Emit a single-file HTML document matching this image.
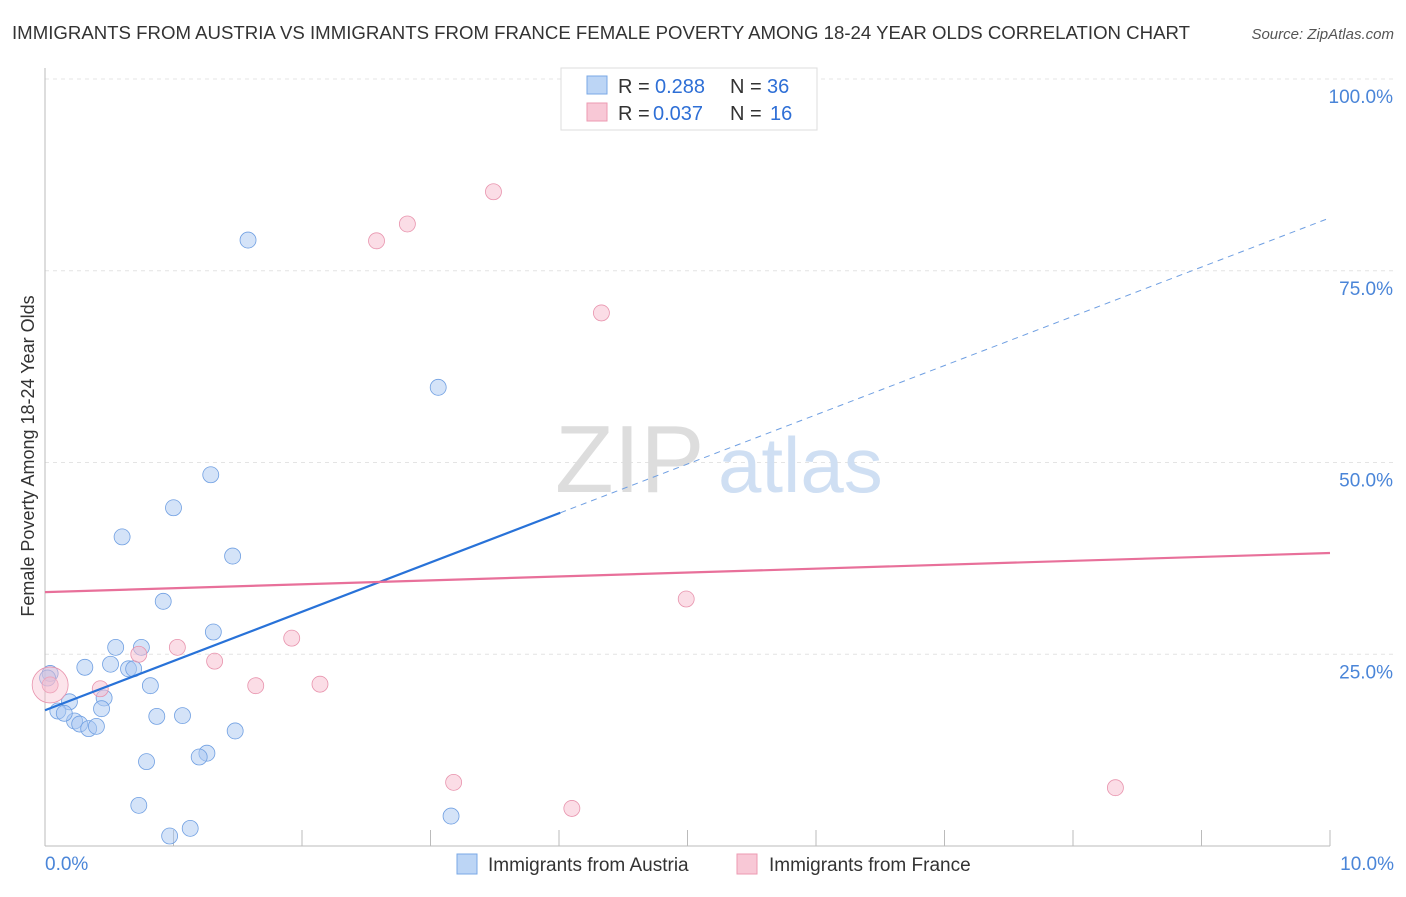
<!DOCTYPE html>
<html><head><meta charset="utf-8"><style>
body{margin:0;background:#fff;font-family:"Liberation Sans",sans-serif;}
svg text{font-family:"Liberation Sans",sans-serif;}
</style></head><body>
<svg id="c" width="1406" height="892" xmlns="http://www.w3.org/2000/svg">
<text x="12" y="39" font-size="18" fill="#333" textLength="1178" lengthAdjust="spacingAndGlyphs">IMMIGRANTS FROM AUSTRIA VS IMMIGRANTS FROM FRANCE FEMALE POVERTY AMONG 18-24 YEAR OLDS CORRELATION CHART</text>
<text x="1394" y="39" font-size="15" fill="#555" font-style="italic" text-anchor="end">Source: ZipAtlas.com</text>
<text transform="translate(34,456) rotate(-90)" font-size="18" fill="#333" text-anchor="middle">Female Poverty Among 18-24 Year Olds</text>
<g id="grid"></g>
<text x="555" y="492" font-size="96" fill="#ddd" font-family="Liberation Serif">ZIP</text>
<text x="718" y="492" font-size="78" fill="#cfdff3">atlas</text>
<g id="marks"></g>
<g>
<rect x="561" y="68" width="256" height="62" fill="#fff" stroke="#ddd"/>
<rect x="587" y="76" width="20" height="18" fill="#bcd5f5" stroke="#7aa8e6"/>
<text x="618" y="93" font-size="20" fill="#333">R =</text>
<text x="655" y="93" font-size="20" fill="#2e6fd6">0.288</text>
<text x="730" y="93" font-size="20" fill="#333">N =</text>
<text x="767" y="93" font-size="20" fill="#2e6fd6">36</text>
<rect x="587" y="103" width="20" height="18" fill="#f8c8d6" stroke="#ec9ab2"/>
<text x="618" y="120" font-size="20" fill="#333">R =</text>
<text x="653" y="120" font-size="20" fill="#2e6fd6">0.037</text>
<text x="730" y="120" font-size="20" fill="#333">N =</text>
<text x="770" y="120" font-size="20" fill="#2e6fd6">16</text>
</g>
<g>
<rect x="457" y="854" width="20" height="20" fill="#bcd5f5" stroke="#7aa8e6"/>
<text x="488" y="871" font-size="19" fill="#333">Immigrants from Austria</text>
<rect x="737" y="854" width="20" height="20" fill="#f8c8d6" stroke="#ec9ab2"/>
<text x="769" y="871" font-size="19" fill="#333">Immigrants from France</text>
</g>
</svg>
<script>
const austriaX=[1.58,3.06,1.29,1.0,0.6,1.46,0.92,1.31,0.55,0.75,0.31,0.51,0.65,0.69,0.82,0.04,0.19,0.46,0.1,0.44,0.23,0.27,0.34,0.4,0.87,1.07,1.48,1.26,1.2,0.79,0.73,3.16,1.13,0.97,0.02,0.15];
const austriaY=[79.0,59.8,48.4,44.1,40.3,37.8,31.9,27.9,25.9,25.9,23.3,23.7,23.1,23.1,20.9,22.5,18.8,19.3,17.6,17.9,16.3,15.9,15.3,15.6,16.9,17.0,15.0,12.1,11.6,11.0,5.3,3.9,2.3,1.3,21.9,17.3];
const franceX=[3.49,2.82,2.58,4.33,4.99,1.92,1.03,0.73,1.32,1.64,2.14,0.43,0.04,3.18,4.1,8.33];
const franceY=[85.3,81.1,78.9,69.5,32.2,27.1,25.9,25.0,24.1,20.9,21.1,20.5,21.0,8.3,4.9,7.6];
const tickPct=["0.0%","25.0%","50.0%","75.0%","100.0%"];
const X=v=>45+v*128.5, Y=v=>846-v*7.67;
const ns="http://www.w3.org/2000/svg";
function mk(t,a,p){const e=document.createElementNS(ns,t);for(const k in a)e.setAttribute(k,a[k]);p.appendChild(e);return e;}
const g=document.getElementById('grid'),m=document.getElementById('marks');
[25,50,75,100].forEach((v,i)=>{
 const l=mk('line',{x1:45,x2:1394,y1:Y(v),y2:Y(v),stroke:'#e4e4e4','stroke-dasharray':'4,4'},g);
 
 
 const t=mk('text',{x:1393,y:Y(v)+24,'font-size':19,fill:'#4a85d8','text-anchor':'end'},g);
 t.textContent=tickPct[i+1];
 
 
});
const ax=mk('line',{x1:45,x2:45,y1:68,y2:846,stroke:'#bbb'},g);


const bx=mk('line',{x1:45,x2:1330,y1:846,y2:846,stroke:'#bbb'},g);


for(let i=0;i<=10;i++){const t=mk('line',{x1:X(i),x2:X(i),y1:830,y2:846,stroke:'#bbb'},g);
 
 }
const xl=mk('text',{x:45,y:870,'font-size':19,fill:'#4a85d8'},g);xl.textContent='0.0%';


const xr=mk('text',{x:1394,y:870,'font-size':19,fill:'#4a85d8','text-anchor':'end'},g);xr.textContent='10.0%';


function pts(xs,ys,fill,stroke,name){xs.forEach((x,i)=>{const c=mk('circle',{cx:X(x),cy:Y(ys[i]),r:8,fill:fill,stroke:stroke,'stroke-width':0.8,'fill-opacity':0.5},m);
 
 });}
pts(austriaX,austriaY,'#a9c8f2','#6f9fe2','austria-point');
pts(franceX,franceY,'#f7bccd','#e893ad','france-point');
const big=mk('circle',{cx:X(0.04),cy:Y(21),r:18,fill:'#f7bccd','fill-opacity':0.4,stroke:'#e893ad','stroke-width':0.8},m);


const bA=17.7,bB=81.9,pA=33.1,pB=38.2;
const l1=mk('line',{x1:X(0),y1:Y(bA),x2:X(4.01),y2:Y(bA+(bB-bA)*0.401),stroke:'#2872d8','stroke-width':2.2},m);


const l2=mk('line',{x1:X(4.01),y1:Y(bA+(bB-bA)*0.401),x2:X(10),y2:Y(bB),stroke:'#6f9fe2','stroke-width':1,'stroke-dasharray':'6,5'},m);


const l3=mk('line',{x1:X(0),y1:Y(pA),x2:X(10),y2:Y(pB),stroke:'#e8709a','stroke-width':2.2},m);


</script>
</body></html>
